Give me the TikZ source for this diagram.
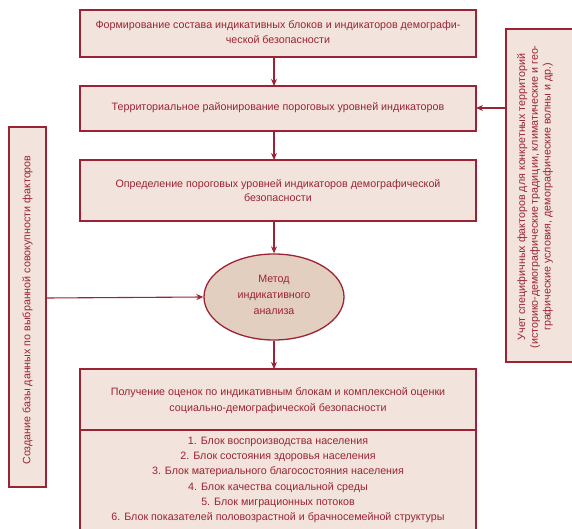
\documentclass[tikz,border=0pt]{standalone}
\usepackage{fontspec}
\setmainfont{Liberation Sans}
\usetikzlibrary{arrows.meta,shapes.geometric}
\definecolor{dred}{HTML}{9B2335}
\definecolor{boxfill}{HTML}{F2E4DC}
\definecolor{ellfill}{HTML}{E3CFBF}
\begin{document}
\begin{tikzpicture}[x=1pt,y=-1pt,
  txt/.style={text=dred,font=\fontsize{10.7}{14.5}\selectfont,align=center},
  boxst/.style={draw=dred,line width=1.3pt,fill=boxfill},
  arr/.style={draw=dred,line width=1.1pt,-{Stealth[length=7pt,width=6pt]}}]
\useasboundingbox (0,0) rectangle (572,529);
% boxes
\draw[boxst] (80,10) rectangle (476,57);
\node[txt] (b1) at (278,32) {Формирование состава индикативных блоков и индикаторов демографи-\\ческой безопасности};
\coordinate (b1s) at (274,57);
\draw[boxst] (80,86) rectangle (476,131);
\node[txt] (b2) at (278,108) {Территориальное районирование пороговых уровней индикаторов};
\coordinate (b2n) at (274,86);
\coordinate (b2s) at (274,131);
\coordinate (b2e) at (476,108);
\draw[boxst] (80,160) rectangle (476,221);
\node[txt] (b3) at (278,190.5) {Определение пороговых уровней индикаторов демографической\\безопасности};
\coordinate (b3n) at (274,160);
\coordinate (b3s) at (274,221);
\node[ellipse,draw=dred,line width=1.3pt,fill=ellfill,minimum width=140pt,minimum height=86pt,inner sep=0pt] (el) at (274,297) {};
\node[txt,font=\fontsize{10.7}{16}\selectfont] at (274,295) {Метод\\индикативного\\анализа};
% bottom box
\draw[boxst] (80,369) rectangle (476,540);
\draw[dred,line width=1.3pt] (80,430) -- (476,430);
\coordinate (b4n) at (274,369);
\node[txt,font=\fontsize{10.7}{16}\selectfont] (b4a) at (278,401) {Получение оценок по индикативным блокам и комплексной оценки\\социально-демографической безопасности};
\node[txt,font=\fontsize{10.7}{15.2}\selectfont] (b4b) at (278,480) {1. Блок воспроизводства населения\\2. Блок состояния здоровья населения\\3. Блок материального благосостояния населения\\4. Блок качества социальной среды\\5. Блок миграционных потоков\\6. Блок показателей половозрастной и брачносемейной структуры};
% right box
\draw[boxst] (506,29) rectangle (580,362);
\coordinate (rw) at (506,108);
\node[txt,rotate=90,font=\fontsize{10.7}{12.8}\selectfont] (rt) at (535,197) {Учет специфичных факторов для конкретных территорий\\(историко-демографические традиции, климатические и гео-\\графические условия, демографические волны и др.)};
% left box
\draw[boxst] (9,127) rectangle (46,487);
\coordinate (le) at (46,298);
\node[txt,rotate=90] (lt) at (27.5,310) {Создание базы данных по выбранной совокупности факторов};
% arrows
\draw[arr] (b1s) -- (b2n);
\draw[arr] (b2s) -- (b3n);
\draw[arr] (b3s) -- (el.north);
\draw[arr] (el.south) -- (b4n);
\draw[arr] (rw) -- (b2e);
\draw[arr] (le) -- (el.west);
\end{tikzpicture}
\end{document}
